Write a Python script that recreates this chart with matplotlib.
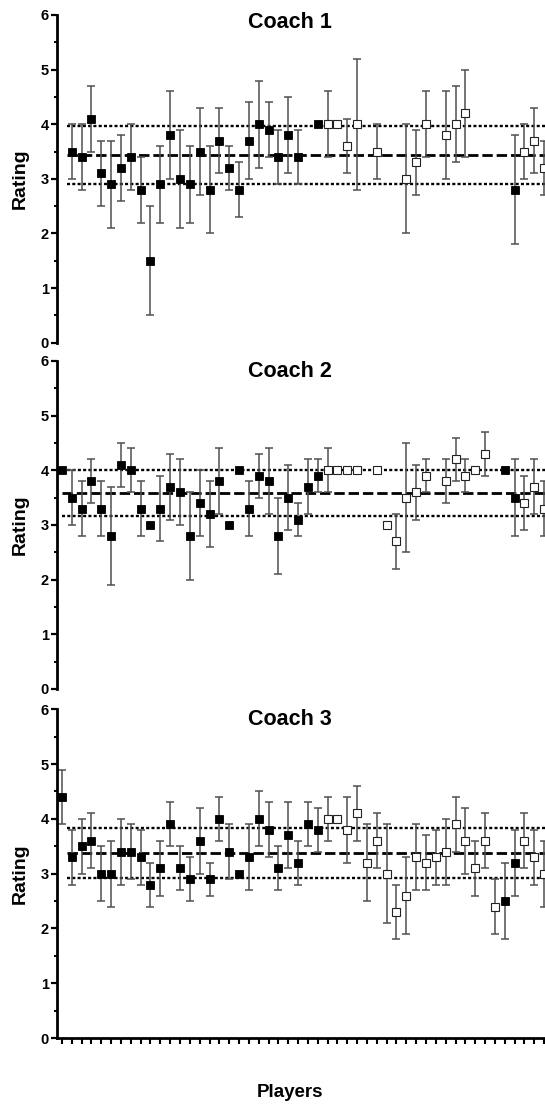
import numpy as np
import matplotlib
matplotlib.use("Agg")
import matplotlib.pyplot as plt

plt.rcParams['font.family'] = ['Liberation Sans', 'DejaVu Sans']
plt.rcParams['font.weight'] = 'bold'
plt.rcParams['lines.scale_dashes'] = False

nan = np.nan

# player index 0..49, nan = no rating from that coach
players = np.arange(50)
# filled squares = players 0-26 and 45-46, open squares = the rest
filled = np.zeros(50, dtype=bool)
filled[0:27] = True
filled[45:47] = True

coach1_mean = [nan, 3.5, 3.4, 4.1, 3.1, 2.9, 3.2, 3.4, 2.8, 1.5,
               2.9, 3.8, 3.0, 2.9, 3.5, 2.8, 3.7, 3.2, 2.8, 3.7,
               4.0, 3.9, 3.4, 3.8, 3.4, nan, 4.0, 4.0, 4.0, 3.6,
               4.0, nan, 3.5, nan, nan, 3.0, 3.3, 4.0, nan, 3.8,
               4.0, 4.2, nan, nan, nan, nan, 2.8, 3.5, 3.7, 3.2]
coach1_sd = [0, 0.5, 0.6, 0.6, 0.6, 0.8, 0.6, 0.6, 0.6, 1.0,
             0.7, 0.8, 0.9, 0.7, 0.8, 0.8, 0.6, 0.4, 0.5, 0.7,
             0.8, 0.5, 0.5, 0.7, 0.5, 0, 0, 0.6, 0, 0.5,
             1.2, 0, 0.5, 0, 0, 1.0, 0.6, 0.6, 0, 0.8,
             0.7, 0.8, 0, 0, 0, 0, 1.0, 0.5, 0.6, 0.5]

coach2_mean = [4.0, 3.5, 3.3, 3.8, 3.3, 2.8, 4.1, 4.0, 3.3, 3.0,
               3.3, 3.7, 3.6, 2.8, 3.4, 3.2, 3.8, 3.0, 4.0, 3.3,
               3.9, 3.8, 2.8, 3.5, 3.1, 3.7, 3.9, 4.0, 4.0, 4.0,
               4.0, nan, 4.0, 3.0, 2.7, 3.5, 3.6, 3.9, nan, 3.8,
               4.2, 3.9, 4.0, 4.3, nan, 4.0, 3.5, 3.4, 3.7, 3.3]
coach2_sd = [0, 0.5, 0.5, 0.4, 0.5, 0.9, 0.4, 0.4, 0.5, 0,
             0.6, 0.6, 0.6, 0.8, 0.6, 0.6, 0.6, 0, 0, 0.5,
             0.4, 0.6, 0.7, 0.6, 0.3, 0.5, 0.3, 0.4, 0, 0,
             0, 0, 0, 0, 0.5, 1.0, 0.5, 0.3, 0, 0.4,
             0.4, 0.3, 0, 0.4, 0, 0, 0.7, 0.5, 0.5, 0.5]

coach3_mean = [4.4, 3.3, 3.5, 3.6, 3.0, 3.0, 3.4, 3.4, 3.3, 2.8,
               3.1, 3.9, 3.1, 2.9, 3.6, 2.9, 4.0, 3.4, 3.0, 3.3,
               4.0, 3.8, 3.1, 3.7, 3.2, 3.9, 3.8, 4.0, 4.0, 3.8,
               4.1, 3.2, 3.6, 3.0, 2.3, 2.6, 3.3, 3.2, 3.3, 3.4,
               3.9, 3.6, 3.1, 3.6, 2.4, 2.5, 3.2, 3.6, 3.3, 3.0]
coach3_sd = [0.5, 0.5, 0.5, 0.5, 0.5, 0.6, 0.6, 0.5, 0.5, 0.4,
             0.5, 0.4, 0.4, 0.4, 0.6, 0.3, 0.4, 0.5, 0, 0.6,
             0.5, 0.5, 0.4, 0.6, 0.4, 0.4, 0.4, 0.4, 0, 0.6,
             0.5, 0.7, 0.5, 0.9, 0.5, 0.7, 0.6, 0.5, 0.5, 0.6,
             0.5, 0.6, 0.5, 0.5, 0.5, 0.7, 0.6, 0.5, 0.5, 0.6]

# overall mean and mean +/- SD lines for each coach
line_mean = [3.44, 3.59, 3.38]
line_upper = [3.97, 4.01, 3.83]
line_lower = [2.91, 3.17, 2.92]

titles = ['Coach 1', 'Coach 2', 'Coach 3']
means = [coach1_mean, coach2_mean, coach3_mean]
sds = [coach1_sd, coach2_sd, coach3_sd]

fig = plt.figure(figsize=(5.45, 11.06), dpi=100)
W, H = 545.0, 1106.0
left_px = 57.0
step = 9.84
# axes tops/bottoms in pixels (y=6 and y=0)
panel_px = [(15.0, 342.7), (361.0, 689.0), (709.3, 1038.0)]
title_base = [28.5, 377.0, 725.0]
line_start = [0.5, 0.0, 0.5]

for k in range(3):
    top, bot = panel_px[k]
    ax = fig.add_axes([left_px / W, 1 - bot / H, 51 * step / W, (bot - top) / H])
    m = np.array(means[k], dtype=float)
    s = np.array(sds[k], dtype=float)

    ax.plot([line_start[k], 51], [line_mean[k]] * 2, color='black', lw=2.0,
            dashes=(7.5, 2.8), zorder=1)
    ax.plot([line_start[k], 51], [line_upper[k]] * 2, color='black', lw=1.7,
            dashes=(2.2, 1.6), zorder=1)
    ax.plot([line_start[k], 51], [line_lower[k]] * 2, color='black', lw=1.7,
            dashes=(2.2, 1.6), zorder=1)

    has_err = s > 0
    ax.errorbar(players[has_err], m[has_err], yerr=s[has_err], fmt='none',
                ecolor='#505050', elinewidth=1.1, capsize=2.6, capthick=1.1,
                zorder=2)
    ax.plot(players[filled], m[filled], 's', ms=5.2, mfc='black', mec='black',
            mew=0.6, ls='none', zorder=3)
    ax.plot(players[~filled], m[~filled], 's', ms=5.2, mfc='white',
            mec='#222222', mew=0.8, ls='none', zorder=3)

    ax.set_xlim(-0.5, 50.5)
    ax.set_ylim(0, 6)
    ax.set_yticks(range(7))
    ax.set_yticks(np.arange(0.5, 6, 1.0), minor=True)
    ax.tick_params(axis='y', which='major', length=4.5, width=1.6, pad=1.5,
                   labelsize=10.5)
    ax.tick_params(axis='y', which='minor', length=2.4, width=1.4)
    for lab in ax.get_yticklabels():
        lab.set_fontweight('bold')
    ax.spines['top'].set_visible(False)
    ax.spines['right'].set_visible(False)
    ax.spines['left'].set_linewidth(2.0)
    if k < 2:
        ax.spines['bottom'].set_visible(False)
        ax.set_xticks([])
    else:
        ax.spines['bottom'].set_linewidth(2.0)
        ax.set_xticks(range(51))
        ax.set_xticklabels([])
        ax.tick_params(axis='x', length=4, width=1.5)

    fig.text(290 / W, 1 - title_base[k] / H, titles[k], ha='center',
             va='baseline', fontsize=15.5, fontweight='bold')
    fig.text(20 / W, 1 - (top + bot) / 2 / H, 'Rating', rotation=90,
             ha='center', va='center', fontsize=14, fontweight='bold')

fig.text(290 / W, 1 - 1097 / H, 'Players', ha='center', va='baseline',
         fontsize=13.5, fontweight='bold')

fig.savefig('out.png', dpi=100)
